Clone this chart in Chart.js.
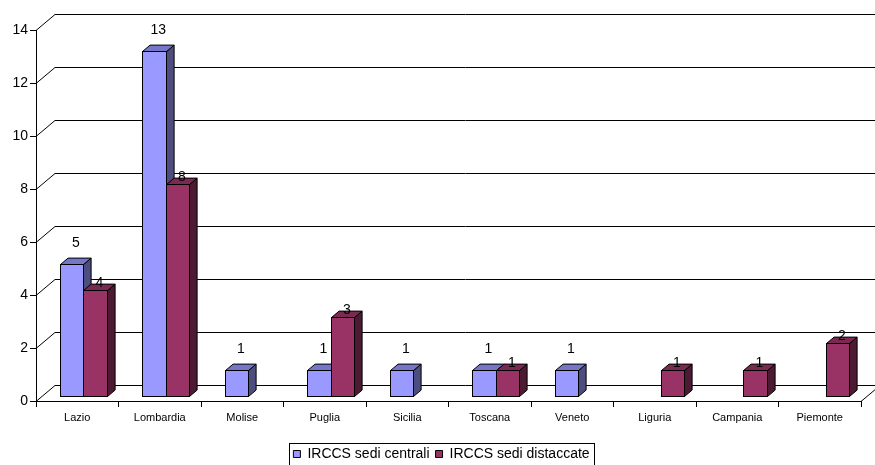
<!DOCTYPE html>
<html>
<head>
<meta charset="utf-8">
<script src="https://cdn.jsdelivr.net/npm/chart.js@4"></script>
<style>
  html, body { margin: 0; padding: 0; background: #fff; }
  canvas { display: block; }
</style>
</head>
<body>
<canvas id="chart" width="875" height="465"></canvas>
<script>
// data
const regions = ["Lazio", "Lombardia", "Molise", "Puglia", "Sicilia", "Toscana", "Veneto", "Liguria", "Campania", "Piemonte"];
const sediCentrali = [5, 13, 1, 1, 1, 1, 1, null, null, null];
const sediDistaccate = [4, 8, null, 3, null, 1, null, 1, 1, 2];
const yTicks = [0, 2, 4, 6, 8, 10, 12, 14];

// 3D look: wall depth and bar depth (pixels)
const DX = 19, DY = 16;
const BAR_OX = 6, BAR_OY = 5;
const BDX = 7.6, BDY = 6.4;
const FONT = '"Liberation Sans", Arial, sans-serif';

const faces = [
    { front: "#9999ff", top: "#7676c9", side: "#4d4d80", labelGap: 21 },
    { front: "#993366", top: "#7a2952", side: "#4d1a33", labelGap: 7 }
];

const box3d = {
    id: "box3d",
    afterLayout(chart) {
        // nudge the legend to where it sits in the picture
        const lg = chart.legend;
        lg.left += 11; lg.right += 11;
        lg.top += 6; lg.bottom += 6;
    },
    beforeDatasetsDraw(chart) {
        const ctx = chart.ctx;
        const y = chart.scales.y;
        const left = chart.chartArea.left, right = chart.chartArea.right;
        ctx.save();
        ctx.strokeStyle = "#000";
        ctx.lineWidth = 1;
        yTicks.forEach(v => {
            const py = Math.round(y.getPixelForValue(v)) + 0.5;
            ctx.beginPath();
            ctx.moveTo(left, py);
            ctx.lineTo(left + DX, py - DY);
            ctx.lineTo(chart.width + 10, py - DY);
            ctx.stroke();
        });
        const py0 = Math.round(y.getPixelForValue(0)) + 0.5;
        ctx.beginPath();
        ctx.moveTo(right, py0);
        ctx.lineTo(right + DX, py0 - DY);
        ctx.stroke();
        ctx.restore();
    },
    beforeDatasetDraw() {
        return false; // bars are drawn by hand below
    },
    afterDatasetsDraw(chart) {
        const ctx = chart.ctx;
        ctx.save();
        ctx.lineWidth = 1;
        ctx.strokeStyle = "#000";
        const labels = [];
        for (let j = 0; j < regions.length; j++) {
            chart.data.datasets.forEach((ds, i) => {
                if (ds.data[j] == null) return;
                const el = chart.getDatasetMeta(i).data[j];
                const f = faces[i];
                const l = Math.round(el.x - el.width / 2 + BAR_OX) + 0.5;
                const r = Math.round(el.x + el.width / 2 + BAR_OX) + 0.5;
                const t = Math.round(el.y - BAR_OY) + 0.5;
                const b = Math.round(el.base - BAR_OY) + 0.5;
                // side
                ctx.fillStyle = f.side;
                ctx.beginPath();
                ctx.moveTo(r, b); ctx.lineTo(r + BDX, b - BDY); ctx.lineTo(r + BDX, t - BDY); ctx.lineTo(r, t);
                ctx.closePath(); ctx.fill(); ctx.stroke();
                // top
                ctx.fillStyle = f.top;
                ctx.beginPath();
                ctx.moveTo(l, t); ctx.lineTo(l + BDX, t - BDY); ctx.lineTo(r + BDX, t - BDY); ctx.lineTo(r, t);
                ctx.closePath(); ctx.fill(); ctx.stroke();
                // front
                ctx.fillStyle = f.front;
                ctx.fillRect(l, t, r - l, b - t);
                ctx.strokeRect(l, t, r - l, b - t);
                labels.push({ text: String(ds.data[j]), x: (l + r) / 2 + BDX / 2, y: t - f.labelGap });
            });
        }
        ctx.fillStyle = "#000";
        ctx.font = "14px " + FONT;
        ctx.textAlign = "center";
        ctx.textBaseline = "middle";
        labels.forEach(lb => ctx.fillText(lb.text, lb.x, lb.y));
        ctx.restore();
    },
    afterDraw(chart) {
        // frame round the legend
        const boxes = chart.legend.legendHitBoxes;
        if (!boxes || !boxes.length) return;
        const first = boxes[0], last = boxes[boxes.length - 1];
        const ctx = chart.ctx;
        ctx.save();
        ctx.strokeStyle = "#000";
        ctx.lineWidth = 1;
        const x0 = Math.round(first.left - 4) + 0.5;
        const x1 = Math.round(last.left + last.width + 4) + 0.5;
        const y0 = Math.round(first.top - 4) + 0.5;
        const y1 = chart.height + 5;
        ctx.strokeRect(x0, y0, x1 - x0, y1 - y0);
        ctx.restore();
    }
};

new Chart(document.getElementById("chart"), {
    type: "bar",
    data: {
        labels: regions,
        datasets: [
            { label: "IRCCS sedi centrali", data: sediCentrali, backgroundColor: "#9999ff", borderColor: "#000", borderWidth: 1 },
            { label: "IRCCS sedi distaccate", data: sediDistaccate, backgroundColor: "#993366", borderColor: "#000", borderWidth: 1 }
        ]
    },
    options: {
        responsive: false,
        animation: false,
        layout: { padding: { left: 0, right: 14, top: 30, bottom: 0 } },
        datasets: { bar: { categoryPercentage: 0.57, barPercentage: 1 } },
        plugins: {
            tooltip: { enabled: false },
            legend: {
                position: "bottom",
                labels: {
                    boxWidth: 7, boxHeight: 7, padding: 6,
                    color: "#000",
                    font: { family: FONT, size: 14 }
                }
            }
        },
        scales: {
            x: {
                grid: { offset: true, drawOnChartArea: false, drawTicks: true, tickLength: 6, color: "#000" },
                border: { display: true, color: "#000" },
                ticks: { color: "#000", font: { family: FONT, size: 11 }, padding: 4, maxRotation: 0 },
                afterFit: s => { s.height = 465 - 401 - s.chart.legend.height; }
            },
            y: {
                min: 0, max: 14,
                ticks: { stepSize: 2, color: "#000", font: { family: FONT, size: 14 }, padding: 2 },
                grid: { drawOnChartArea: false, drawTicks: true, tickLength: 6, color: "#000" },
                border: { display: true, color: "#000" },
                afterFit: s => { s.width = 36; }
            }
        }
    },
    plugins: [box3d]
});
</script>
</body>
</html>
